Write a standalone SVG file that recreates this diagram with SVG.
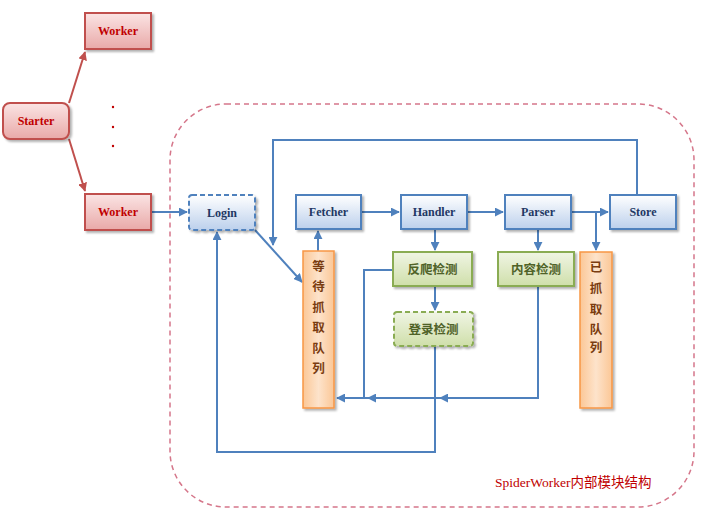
<svg xmlns="http://www.w3.org/2000/svg" width="711" height="519" viewBox="0 0 711 519">
<defs>
<linearGradient id="gRed" x1="0" y1="0" x2="0" y2="1"><stop offset="0" stop-color="#fbe4e4"/><stop offset="1" stop-color="#e9a9a8"/></linearGradient>
<linearGradient id="gBlue" x1="0" y1="0" x2="0" y2="1"><stop offset="0" stop-color="#ffffff"/><stop offset="1" stop-color="#bcd0ec"/></linearGradient>
<linearGradient id="gGreen" x1="0" y1="0" x2="0" y2="1"><stop offset="0" stop-color="#f0f5e4"/><stop offset="1" stop-color="#cfdfaa"/></linearGradient>
<linearGradient id="gOrange" x1="0" y1="0" x2="1" y2="0"><stop offset="0" stop-color="#fbc796"/><stop offset="0.5" stop-color="#fde3cb"/><stop offset="1" stop-color="#fbc796"/></linearGradient>
<filter id="sh" x="-20%" y="-20%" width="150%" height="150%"><feDropShadow dx="2" dy="2" stdDeviation="1.2" flood-color="#000" flood-opacity="0.3"/></filter>
<marker id="aB" viewBox="0 0 10 10" refX="9" refY="5" markerWidth="4.5" markerHeight="4.5" orient="auto" markerUnits="strokeWidth"><path d="M0,0 L10,5 L0,10 Z" fill="#4f81bd"/></marker>
<marker id="aR" viewBox="0 0 10 10" refX="9" refY="5" markerWidth="4.5" markerHeight="4.5" orient="auto" markerUnits="strokeWidth"><path d="M0,0 L10,5 L0,10 Z" fill="#c0504d"/></marker>
</defs>
<style>
.red{fill:url(#gRed);stroke:#c0504d;stroke-width:2;filter:url(#sh)}
.blue{fill:url(#gBlue);stroke:#4f81bd;stroke-width:2;filter:url(#sh)}
.green{fill:url(#gGreen);stroke:#8aac52;stroke-width:2;filter:url(#sh)}
.orange{fill:url(#gOrange);stroke:#f79646;stroke-width:1.5;filter:url(#sh)}
.dash{stroke-dasharray:5 3}
.tr{font-family:"Liberation Serif",serif;font-weight:bold;font-size:12px;fill:#c00000;text-anchor:middle}
.tb{font-family:"Liberation Serif",serif;font-weight:bold;font-size:12px;fill:#1f3864;text-anchor:middle}
.tg{font-family:"Noto Sans CJK SC",sans-serif;font-weight:bold;font-size:12.5px;fill:#4f6228;text-anchor:middle}
.to{font-family:"Noto Sans CJK SC",sans-serif;font-weight:bold;font-size:12.5px;fill:#7a3c10;text-anchor:middle}
.cb{fill:none;stroke:#4f81bd;stroke-width:2}
.cr{fill:none;stroke:#c0504d;stroke-width:2}
</style>
<rect width="711" height="519" fill="#ffffff"/>

<g id="container">
<rect x="170" y="104" width="524" height="403" rx="56" ry="56" fill="none" stroke="#d5768a" stroke-width="1.5" stroke-dasharray="5 4"/>
<text x="495" y="487" font-family="Liberation Serif, Noto Sans CJK SC, serif" font-size="13.5" fill="#c00000">SpiderWorker内部模块结构</text>
</g>

<g id="connectors">
<path class="cr" d="M69,103 L85,52" marker-end="url(#aR)"/>
<path class="cr" d="M69,139 L85,191" marker-end="url(#aR)"/>
<circle cx="113" cy="107" r="1.2" fill="#c00000"/>
<circle cx="113" cy="127" r="1.2" fill="#c00000"/>
<circle cx="113" cy="146" r="1.2" fill="#c00000"/>
<path class="cb" d="M151,212 H187" marker-end="url(#aB)"/>
<path class="cb" d="M361,212 H399" marker-end="url(#aB)"/>
<path class="cb" d="M467,212 H503" marker-end="url(#aB)"/>
<path class="cb" d="M571,212 H608" marker-end="url(#aB)"/>
<path class="cb" d="M596,212 V250" marker-end="url(#aB)"/>
<path class="cb" d="M637,195 V140 H273 V245" marker-end="url(#aB)"/>
<path class="cb" d="M255,230 L302,282" marker-end="url(#aB)"/>
<path class="cb" d="M318,251 V231" marker-end="url(#aB)"/>
<path class="cb" d="M435,229 V250" marker-end="url(#aB)"/>
<path class="cb" d="M435,286 V310" marker-end="url(#aB)"/>
<path class="cb" d="M538,229 V250" marker-end="url(#aB)"/>
<path class="cb" d="M538,286 V398 H440" marker-end="url(#aB)"/>
<path class="cb" d="M440,398 H368" marker-end="url(#aB)"/>
<path class="cb" d="M368,398 H337" marker-end="url(#aB)"/>
<path class="cb" d="M393,270 H364 V398"/>
<path class="cb" d="M435,347 V452 H217 V232" marker-end="url(#aB)"/>
</g>

<g id="starter"><rect class="red" x="3" y="103" width="66" height="36" rx="7"/><text class="tr" x="36" y="125">Starter</text></g>
<g id="worker1"><rect class="red" x="85" y="13" width="66" height="36"/><text class="tr" x="118" y="35">Worker</text></g>
<g id="worker2"><rect class="red" x="85" y="194" width="66" height="36"/><text class="tr" x="118" y="216">Worker</text></g>

<g id="login"><rect class="blue dash" x="189" y="195" width="66" height="35" rx="3"/><text class="tb" x="222" y="216.5">Login</text></g>
<g id="fetcher"><rect class="blue" x="296" y="195" width="65" height="34"/><text class="tb" x="328.5" y="216">Fetcher</text></g>
<g id="handler"><rect class="blue" x="401" y="195" width="66" height="34"/><text class="tb" x="434" y="216">Handler</text></g>
<g id="parser"><rect class="blue" x="505" y="195" width="66" height="34"/><text class="tb" x="538" y="216">Parser</text></g>
<g id="store"><rect class="blue" x="610" y="195" width="66" height="34"/><text class="tb" x="643" y="216">Store</text></g>

<g id="fanpa"><rect class="green" x="393" y="252" width="79" height="34"/><text class="tg" x="432.5" y="273.5">反爬检测</text></g>
<g id="neirong"><rect class="green" x="498" y="252" width="76" height="34"/><text class="tg" x="536" y="273.5">内容检测</text></g>
<g id="denglu"><rect class="green dash" x="394" y="312" width="79" height="34" rx="3"/><text class="tg" x="433.5" y="333.5">登录检测</text></g>

<g id="waitQueue"><rect class="orange" x="303" y="251" width="31" height="157"/>
<text class="to" x="318.5" y="271">等</text><text class="to" x="318.5" y="291">待</text><text class="to" x="318.5" y="311.5">抓</text><text class="to" x="318.5" y="332">取</text><text class="to" x="318.5" y="353">队</text><text class="to" x="318.5" y="372.5">列</text></g>
<g id="doneQueue"><rect class="orange" x="580" y="252" width="32" height="156"/>
<text class="to" x="596" y="272">已</text><text class="to" x="596" y="292.5">抓</text><text class="to" x="596" y="313.5">取</text><text class="to" x="596" y="334">队</text><text class="to" x="596" y="352">列</text></g>
</svg>
